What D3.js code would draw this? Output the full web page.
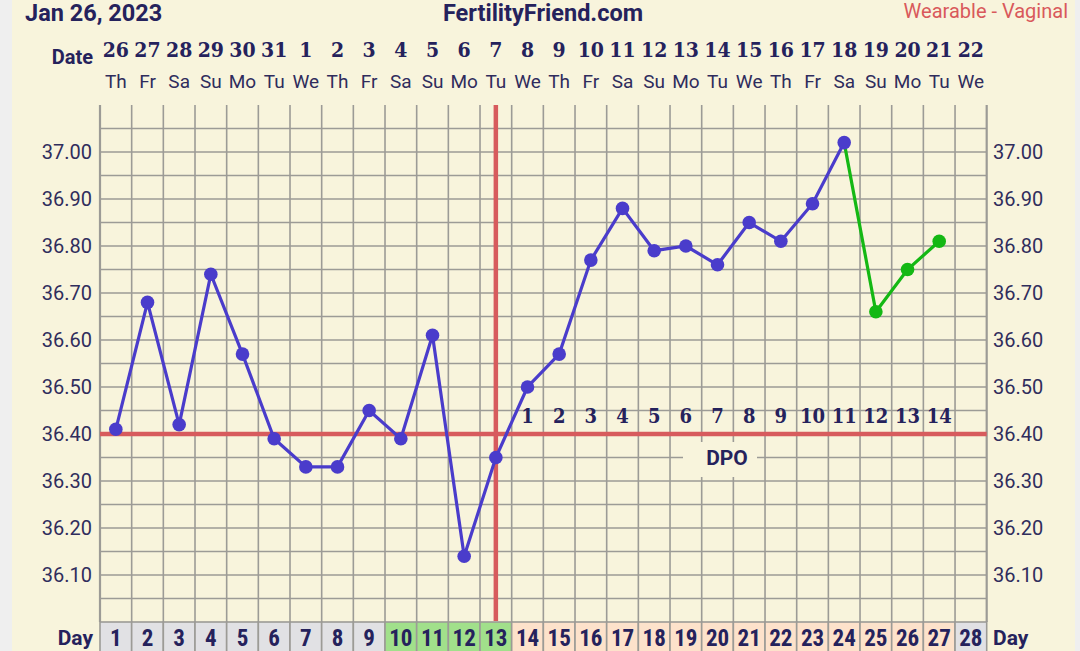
<!DOCTYPE html>
<html>
<head>
<meta charset="utf-8">
<script src="https://cdn.jsdelivr.net/npm/d3@7"></script>
<style>
  html, body { margin: 0; padding: 0; background: #efefef; }
  svg { display: block; }
</style>
</head>
<body>
<svg id="chart" width="1080" height="651"></svg>
<script>
// ---- data ----
const cycleDays = [1,2,3,4,5,6,7,8,9,10,11,12,13,14,15,16,17,18,19,20,21,22,23,24,25,26,27,28];
const dateLabels = ["26","27","28","29","30","31","1","2","3","4","5","6","7","8","9","10","11","12","13","14","15","16","17","18","19","20","21","22"];
const weekdayLabels = ["Th","Fr","Sa","Su","Mo","Tu","We","Th","Fr","Sa","Su","Mo","Tu","We","Th","Fr","Sa","Su","Mo","Tu","We","Th","Fr","Sa","Su","Mo","Tu","We"];
const dayTypes = ["n","n","n","n","n","n","n","n","n","f","f","f","f","p","p","p","p","p","p","p","p","p","p","p","p","p","p","n"];
const tempDays = [1,2,3,4,5,6,7,8,9,10,11,12,13,14,15,16,17,18,19,20,21,22,23,24];
const temps = [36.41,36.68,36.42,36.74,36.57,36.39,36.33,36.33,36.45,36.39,36.61,36.14,36.35,36.50,36.57,36.77,36.88,36.79,36.80,36.76,36.85,36.81,36.89,37.02];
const greenDays = [24,25,26,27];
const greenTemps = [37.02,36.66,36.75,36.81];
const greenPointDays = [25,26,27];
const greenPointTemps = [36.66,36.75,36.81];
const yTicks = [36.10,36.20,36.30,36.40,36.50,36.60,36.70,36.80,36.90,37.00];
const coverline = 36.40;
const ovulationDay = 13;
const dpoDays = [14,15,16,17,18,19,20,21,22,23,24,25,26,27];
const dpoLabels = ["1","2","3","4","5","6","7","8","9","10","11","12","13","14"];

(function () {
// ---- layout ----
const svg = d3.select("#chart");
const W = 1080, H = 651;
const pLeft = 100, pRight = 986.7, pTop = 105, pBottom = 622;
const x = d3.scaleLinear().domain([0, 28]).range([pLeft, pRight]);
const xc = d => x(d - 0.5);
const y = d3.scaleLinear().domain([36.0, 37.1]).range([pBottom, pTop]);

const navy = "#25225c";
const gridCol = "#9c9b96";
const cream = "#f8f4dc";
const red = "#d75b5d";
const purple = "#4a3ccb";
const green = "#14b814";

svg.append("rect").attr("x", 12).attr("y", 0).attr("width", 1063).attr("height", H).attr("fill", cream);

// grid
const g = svg.append("g");
const hLines = d3.range(1, 22).map(i => 36.0 + i * 0.05);
g.selectAll("line.h").data(hLines).join("line")
  .attr("x1", pLeft).attr("x2", pRight)
  .attr("y1", d => y(d)).attr("y2", d => y(d))
  .attr("stroke", gridCol).attr("stroke-width", 1.6);
g.selectAll("line.v").data(d3.range(0, 29)).join("line")
  .attr("x1", d => x(d)).attr("x2", d => x(d))
  .attr("y1", pTop).attr("y2", pBottom)
  .attr("stroke", gridCol).attr("stroke-width", d => (d === 0 || d === 28) ? 2.2 : 1.6);

// day row
const fillFor = t => t === "f" ? "#a1e08b" : (t === "p" ? "#fde2cb" : "#e1e1e4");
svg.selectAll("rect.day").data(cycleDays).join("rect")
  .attr("x", d => x(d - 1)).attr("y", pBottom)
  .attr("width", x(1) - x(0)).attr("height", 32)
  .attr("fill", (d, i) => fillFor(dayTypes[i]))
  .attr("stroke", gridCol).attr("stroke-width", 1.6);
svg.selectAll("text.dayn").data(cycleDays).join("text")
  .attr("x", d => xc(d)).attr("y", 646)
  .attr("text-anchor", "middle")
  .attr("font-family", "'Liberation Sans Narrow', 'Roboto Condensed', Roboto, sans-serif")
  .attr("font-weight", 700).attr("font-size", 23).attr("fill", navy)
  .text(d => d);

// DPO background box
svg.append("rect").attr("x", 683).attr("y", 442).attr("width", 74).attr("height", 35).attr("fill", cream);

// red lines
svg.append("line").attr("x1", pLeft).attr("x2", pRight).attr("y1", y(coverline)).attr("y2", y(coverline))
  .attr("stroke", red).attr("stroke-width", 4.5);
svg.append("line").attr("x1", xc(ovulationDay)).attr("x2", xc(ovulationDay)).attr("y1", pTop).attr("y2", pBottom - 1)
  .attr("stroke", red).attr("stroke-width", 4.5);

// DPO labels
svg.selectAll("text.dpo").data(dpoDays).join("text")
  .attr("x", d => xc(d)).attr("y", 423)
  .attr("text-anchor", "middle")
  .attr("font-family", "'DejaVu Serif Condensed', 'DejaVu Serif', serif")
  .style("font-stretch", "condensed")
  .attr("font-weight", 700).attr("font-size", 20).attr("fill", navy)
  .text((d, i) => dpoLabels[i]);
svg.append("text").attr("x", 727).attr("y", 465).attr("text-anchor", "middle")
  .attr("font-family", "Roboto, sans-serif").attr("font-weight", 700).attr("font-size", 21)
  .attr("fill", navy).text("DPO");

// data lines
const line = d3.line().x(d => xc(d[0])).y(d => y(d[1]));
svg.append("path").datum(greenDays.map((d, i) => [d, greenTemps[i]]))
  .attr("d", line).attr("fill", "none").attr("stroke", green).attr("stroke-width", 3.2);
svg.append("path").datum(tempDays.map((d, i) => [d, temps[i]]))
  .attr("d", line).attr("fill", "none").attr("stroke", purple).attr("stroke-width", 3.2);
svg.selectAll("circle.g").data(greenPointDays).join("circle")
  .attr("cx", d => xc(d)).attr("cy", (d, i) => y(greenPointTemps[i])).attr("r", 6.8).attr("fill", green);
svg.selectAll("circle.p").data(tempDays).join("circle")
  .attr("cx", d => xc(d)).attr("cy", (d, i) => y(temps[i])).attr("r", 6.8).attr("fill", purple);

// y axis labels
const fmt = d3.format(".2f");
svg.selectAll("text.yl").data(yTicks).join("text")
  .attr("x", 92).attr("y", d => y(d) + 7).attr("text-anchor", "end")
  .attr("font-family", "Roboto, sans-serif").attr("font-size", 20).attr("fill", "#302d5c")
  .text(d => fmt(d));
svg.selectAll("text.yr").data(yTicks).join("text")
  .attr("x", 993).attr("y", d => y(d) + 7).attr("text-anchor", "start")
  .attr("font-family", "Roboto, sans-serif").attr("font-size", 20).attr("fill", "#302d5c")
  .text(d => fmt(d));

// date row
svg.selectAll("text.date").data(cycleDays).join("text")
  .attr("x", d => xc(d)).attr("y", 57).attr("text-anchor", "middle")
  .attr("font-family", "'DejaVu Serif Condensed', 'DejaVu Serif', serif")
  .style("font-stretch", "condensed")
  .attr("font-weight", 700).attr("font-size", 21).attr("fill", navy)
  .text((d, i) => dateLabels[i]);
svg.selectAll("text.wd").data(cycleDays).join("text")
  .attr("x", d => xc(d)).attr("y", 88).attr("text-anchor", "middle")
  .attr("font-family", "Roboto, sans-serif").attr("font-size", 19).attr("fill", "#2f2c5c")
  .text((d, i) => weekdayLabels[i]);

// labels
svg.append("text").attr("x", 93).attr("y", 64).attr("text-anchor", "end")
  .attr("font-family", "Roboto, sans-serif").attr("font-weight", 700).attr("font-size", 20)
  .attr("fill", navy).text("Date");
svg.append("text").attr("x", 93).attr("y", 645).attr("text-anchor", "end")
  .attr("font-family", "Roboto, sans-serif").attr("font-weight", 700).attr("font-size", 21)
  .attr("fill", navy).text("Day");
svg.append("text").attr("x", 993).attr("y", 645).attr("text-anchor", "start")
  .attr("font-family", "Roboto, sans-serif").attr("font-weight", 700).attr("font-size", 21)
  .attr("fill", navy).text("Day");

// header
svg.append("text").attr("x", 25).attr("y", 21)
  .attr("font-family", "Roboto, sans-serif").attr("font-weight", 700).attr("font-size", 23.5)
  .attr("fill", navy).text("Jan 26, 2023");
svg.append("text").attr("x", 543).attr("y", 21).attr("text-anchor", "middle")
  .attr("font-family", "Roboto, sans-serif").attr("font-weight", 700).attr("font-size", 23.5)
  .attr("fill", navy).text("FertilityFriend.com");
svg.append("text").attr("x", 1068).attr("y", 18).attr("text-anchor", "end")
  .attr("font-family", "Roboto, sans-serif").attr("font-size", 20)
  .attr("fill", "#d9595b").text("Wearable - Vaginal");
})();
</script>
</body>
</html>
